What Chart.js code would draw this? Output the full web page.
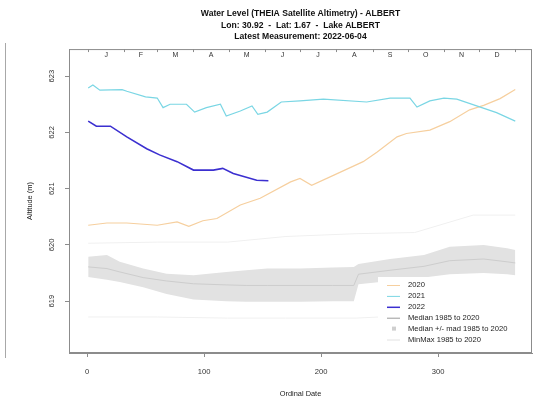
<!DOCTYPE html>
<html>
<head>
<meta charset="utf-8">
<script src="https://cdn.jsdelivr.net/npm/chart.js@4.4.1/dist/chart.umd.min.js"></script>
<style>
html,body{margin:0;padding:0;background:#fff;}
#wrap{position:relative;width:538px;height:401px;}
#side{position:absolute;left:5px;top:43px;height:315px;border-left:1px solid #a8a8a8;}
</style>
</head>
<body>
<div id="wrap"><div id="side"></div><canvas id="c" width="538" height="401"></canvas></div>
<script>
'use strict';
// ── DATA ──────────────────────────────────────────────────────
const titleLines = ['Water Level (THEIA Satellite Altimetry) - ALBERT',
  'Lon: 30.92  -  Lat: 1.67  -  Lake ALBERT', 'Latest Measurement: 2022-06-04'];
const monthLetters = ['J','F','M','A','M','J','J','A','S','O','N','D'];
const monthStarts = [1,32,60,91,121,152,182,213,244,274,305,335,366];
const xTicks = [0,100,200,300];
const yTicks = [619,620,621,622,623];

const days2020 = [1,17,34,60,77,87,99,111,131,148,174,182,192,211,236,248,265,273,293,310,327,339,353,366];
const lvl2020  = [620.35,620.39,620.39,620.35,620.41,620.33,620.43,620.47,620.71,620.83,621.12,621.18,621.06,621.24,621.48,621.65,621.92,621.98,622.04,622.19,622.40,622.48,622.60,622.76];

const days2021 = [1,5,11,30,34,50,60,65,71,85,92,102,114,119,131,141,146,154,166,182,202,239,259,276,282,293,305,316,333,350,366];
const lvl2021  = [622.79,622.84,622.75,622.76,622.73,622.63,622.61,622.44,622.50,622.50,622.36,622.44,622.50,622.29,622.38,622.47,622.32,622.36,622.54,622.56,622.59,622.54,622.61,622.61,622.45,622.56,622.61,622.59,622.47,622.35,622.20];

const days2022 = [1,8,20,34,51,62,77,91,108,116,125,145,155];
const lvl2022  = [622.20,622.11,622.11,621.92,621.71,621.60,621.48,621.33,621.33,621.36,621.27,621.15,621.14];

const bandDays = [1,17,28,48,68,91,119,136,154,182,210,228,232,259,288,310,339,359,366];
const madTop   = [619.79,619.82,619.70,619.58,619.49,619.46,619.52,619.55,619.58,619.58,619.60,619.61,619.66,619.75,619.82,619.97,620.00,619.94,619.91];
const median   = [619.61,619.58,619.52,619.42,619.36,619.31,619.29,619.28,619.28,619.28,619.28,619.28,619.48,619.55,619.62,619.72,619.75,619.70,619.68];
const madBot   = [619.43,619.38,619.34,619.25,619.13,619.03,619.00,618.99,618.99,618.99,619.00,619.00,619.30,619.36,619.42,619.48,619.50,619.48,619.46];

const mmDays = [1,60,120,170,230,280,330,366];
const mmMax  = [620.03,620.05,620.05,620.15,620.20,620.22,620.53,620.53];
const mmMin  = [618.72,618.72,618.70,618.70,618.70,618.75,618.80,618.80];

const legendLabels = ['2020','2021','2022','Median 1985 to 2020','Median +/- mad 1985 to 2020','MinMax 1985 to 2020'];

// ── STYLE ─────────────────────────────────────────────────────
const C2020 = '#f6cf9e', C2021 = '#7ad6e4', C2022 = '#3b2fd0';
const CMED = '#cdcdcd', CBAND = '#e2e2e2', CMM = '#f0f0f0', AX = '#8c8c8c';
const FONT = 'Liberation Sans, Arial, sans-serif';

const pts = (xs, ys) => xs.map((x,i) => ({x, y: ys[i]}));
const line = (data, color, w, extra) => Object.assign({
  data, borderColor: color, borderWidth: w, pointRadius: 0, fill: false, tension: 0
}, extra || {});

// ── PLUGINS ───────────────────────────────────────────────────
const frame = {
  id: 'frame',
  afterDraw(ch) {
    const {ctx, chartArea: a, scales: {x}} = ch;
    ctx.save();
    ctx.strokeStyle = AX; ctx.lineWidth = 1;
    ctx.strokeRect(a.left + .5, a.top + .5, a.right - a.left - 1, a.bottom - a.top - 1);
    // month ticks + letters along top inside box
    ctx.beginPath();
    monthStarts.forEach(d => {
      const px = Math.round(x.getPixelForValue(d)) + .5;
      ctx.moveTo(px, a.top); ctx.lineTo(px, a.top + 3);
    });
    ctx.stroke();
    ctx.fillStyle = '#333'; ctx.font = '7px ' + FONT;
    ctx.textAlign = 'center'; ctx.textBaseline = 'middle';
    monthLetters.forEach((m, i) => {
      const mid = (monthStarts[i] + monthStarts[i+1]) / 2;
      ctx.fillText(m, x.getPixelForValue(mid), a.top + 6);
    });
    // legend
    const lx = a.right - 154, ly = a.bottom - 76;
    ctx.fillStyle = '#fff';
    ctx.fillRect(lx, ly, 153, 70);
    const cols = [C2020, C2021, C2022, '#9a9a9a', '#cfcfcf', '#e2e2e2'];
    ctx.font = '7.6px ' + FONT; ctx.textAlign = 'left';
    legendLabels.forEach((t, i) => {
      const y = ly + 8 + i * 10.9;
      if (i === 4) {
        ctx.fillStyle = cols[i]; ctx.fillRect(lx + 14, y - 2, 4, 4);
      } else {
        ctx.strokeStyle = cols[i]; ctx.lineWidth = i === 2 ? 1.5 : 1;
        ctx.beginPath(); ctx.moveTo(lx + 9, y + .5); ctx.lineTo(lx + 22, y + .5); ctx.stroke();
      }
      ctx.fillStyle = '#222';
      ctx.fillText(t, lx + 30, y);
    });
    ctx.restore();
  }
};

// ── CHART ─────────────────────────────────────────────────────
new Chart(document.getElementById('c'), {
  type: 'line',
  data: {
    datasets: [
      line(pts(days2022, lvl2022), C2022, 1.6),
      line(pts(days2021, lvl2021), C2021, 1.2),
      line(pts(days2020, lvl2020), C2020, 1.2),
      line(pts(bandDays, median), CMED, 1),
      line(pts(bandDays, madTop), 'rgba(0,0,0,0)', 0, {fill: '+1', backgroundColor: CBAND}),
      line(pts(bandDays, madBot), 'rgba(0,0,0,0)', 0),
      line(pts(mmDays, mmMax), CMM, 1),
      line(pts(mmDays, mmMin), CMM, 1),
    ]
  },
  options: {
    responsive: false,
    animation: false,
    events: [],
    layout: { padding: { left: 0, right: 6, top: 0, bottom: 0 } },
    plugins: {
      legend: { display: false },
      tooltip: { enabled: false },
      title: {
        display: true, fullSize: false, text: titleLines, color: '#111',
        font: { family: FONT, size: 8.6, weight: 'bold', lineHeight: 1.34 },
        padding: { top: 8, bottom: 6.5 }
      }
    },
    scales: {
      x: {
        type: 'linear', min: -15.4, max: 380.3,
        afterBuildTicks: s => { s.ticks = xTicks.map(v => ({value: v})); },
        afterFit: s => { s.height = 48; },
        grid: { display: true, drawOnChartArea: false, tickLength: 4, tickColor: AX },
        border: { display: true, color: AX },
        ticks: { color: '#333', padding: 10, font: { family: FONT, size: 7.6 } },
        title: { display: true, text: 'Ordinal Date', color: '#222',
          font: { family: FONT, size: 7.4 }, padding: { top: 0, bottom: 3 } }
      },
      y: {
        type: 'linear', min: 618.08, max: 623.48,
        afterBuildTicks: s => { s.ticks = yTicks.map(v => ({value: v})); },
        afterFit: s => { s.width = 69; },
        grid: { display: true, drawOnChartArea: false, tickLength: 4, tickColor: AX },
        border: { display: true, color: AX },
        ticks: { color: '#333', padding: 7, minRotation: 90, maxRotation: 90,
          crossAlign: 'center', font: { family: FONT, size: 7.6 } },
        title: { display: true, text: 'Altitude (m)', color: '#222',
          font: { family: FONT, size: 7.4 }, padding: { top: 26, bottom: 0 } }
      }
    }
  },
  plugins: [frame]
});
</script>
</body>
</html>
